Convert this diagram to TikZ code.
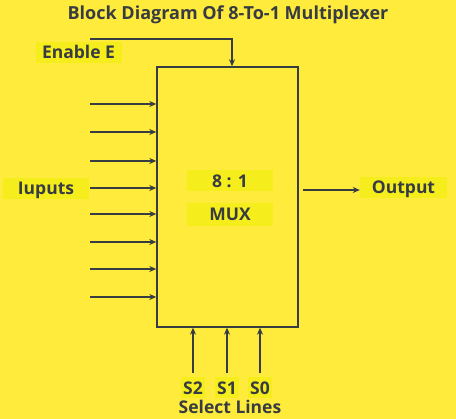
\documentclass[tikz,border=0pt]{standalone}
\usepackage{fontspec}
\setmainfont{Open Sans}
\usetikzlibrary{arrows.meta}
\definecolor{bg}{RGB}{255,235,59}
\definecolor{lab}{RGB}{246,238,28}
\definecolor{ink}{RGB}{55,60,66}
\begin{document}
\begin{tikzpicture}[x=1pt,y=-1pt,
  wire/.style={draw=ink,line width=1.4pt},
  arr/.style={wire,-{Stealth[length=7pt,width=6pt]}},
  lbl/.style={fill=lab,text=ink,font=\bfseries\fontsize{17.5}{20}\selectfont,inner sep=0pt,minimum height=21pt,text height=12.5pt,text depth=0pt},
  txt/.style={text=ink,font=\bfseries\fontsize{17.5}{20}\selectfont,inner sep=0pt}]
\fill[bg] (0,0) rectangle (456,419);
\useasboundingbox (0,0) rectangle (456,419);
\node[txt,font=\bfseries\fontsize{18}{20}\selectfont] (title) at (228,15) {Block Diagram Of 8-To-1 Multiplexer};
\node[wire,draw,minimum width=141pt,minimum height=260pt,inner sep=0pt] (mux) at (227.5,197) {};
\node[lbl,minimum width=86pt] (enable) at (78.5,52.5) {Enable E};
\node[lbl,minimum width=86pt] (inputs) at (46,188.5) {Iuputs};
\node[lbl,minimum width=86pt] (ratio) at (230,181) {8 : 1};
\node[lbl,minimum width=86pt,minimum height=23pt] (muxl) at (230,214.5) {MUX};
\node[lbl,minimum width=87pt] (output) at (403.5,187.5) {Output};
\node[lbl,minimum width=24pt] (s2) at (193,388) {S2};
\node[lbl,minimum width=24pt] (s1) at (227,388) {S1};
\node[lbl,minimum width=24pt] (s0) at (260,388) {S0};
\node[txt] (sel) at (230,407) {Select Lines};
\coordinate (en0) at (90,39);
\coordinate (en1) at (232,39);
\draw[arr] (en0) -- (en1) -- (en1 |- mux.north);
\foreach \y [count=\i] in {104,132,161,188,214,242,269,297}{
  \coordinate (in\i) at (90,\y);
  \draw[arr] (in\i) -- (in\i -| mux.west);
}
\coordinate (outa) at (303,190);
\draw[arr] (outa) -- (output.west |- outa);
\draw[arr] (s2.north) ++(0,-4) coordinate (s2t) -- (s2t |- mux.south);
\draw[arr] (s1.north) ++(0,-4) coordinate (s1t) -- (s1t |- mux.south);
\draw[arr] (s0.north) ++(0,-4) coordinate (s0t) -- (s0t |- mux.south);
\end{tikzpicture}
\end{document}
